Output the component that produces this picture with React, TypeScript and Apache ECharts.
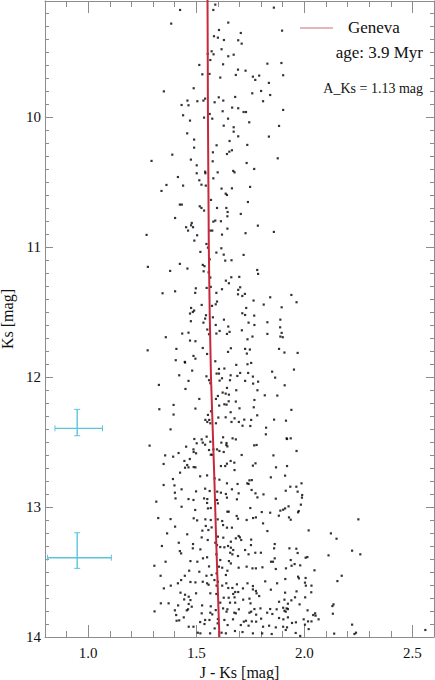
import React, { useEffect, useRef } from "react";
import * as echarts from "echarts";

// ---- tick values ----
const xMajorTicks = [1.0, 1.5, 2.0, 2.5];
const yMajorTicks = [10, 11, 12, 13, 14];
const xMinorTicks: number[] = [];
for (let i = 9; i <= 25; i++) if (i % 5 !== 0) xMinorTicks.push(i / 10);
const yMinorTicks: number[] = [];
for (let i = 92; i <= 139; i++) if (i % 10 !== 0) yMinorTicks.push(i / 10);

// ---- isochrone (Geneva, 3.9 Myr) ----
const isoColor = [1.552, 1.553, 1.554, 1.556, 1.558, 1.562, 1.568, 1.576, 1.584, 1.591, 1.599, 1.607];
const isoKs = [9.1, 9.5, 10.0, 10.5, 11.0, 11.5, 12.0, 12.4, 12.8, 13.2, 13.6, 14.0];

// ---- typical error bars ----
const errColor = [0.949, 0.949];
const errKs = [12.395, 13.39];
const errColorLo = [0.846, 0.812];
const errColorHi = [1.066, 1.107];
const errKsLo = [12.249, 13.198];
const errKsHi = [12.452, 13.472];

// ---- stars: [J-Ks, Ks] ----
const starsBright: number[][] = [
[1.588,9.136],[1.579,9.177],[1.425,9.177],[1.859,9.159],[1.384,9.282],[1.648,9.274],[1.897,9.336],[1.605,9.331],[1.706,9.354],[1.582,9.379],[1.600,9.390],[1.628,9.408],[1.694,9.410],[1.710,9.436],[1.617,9.479],[1.571,9.495],[1.580,9.518],[1.553,9.515],[1.673,9.521],[1.648,9.533],[1.565,9.562],[1.829,9.590],[1.894,9.585],[1.514,9.600],[1.624,9.595],[1.693,9.636],[1.728,9.644],[1.528,9.672],[1.561,9.669],[1.683,9.677],[1.762,9.690],[1.791,9.682],[1.902,9.679],[1.611,9.697],[1.773,9.715],[1.836,9.738],[1.488,9.779],[1.350,9.803],[1.800,9.800],[1.759,9.818],[1.842,9.831],[1.604,9.849],[1.680,9.846],[1.541,9.859],[1.533,9.874],[1.459,9.874],[1.505,9.879],[1.625,9.874],[1.585,9.887],[1.809,9.879],[1.432,9.908],[1.464,9.910],[1.666,9.928],[1.694,9.933],[1.902,9.946],[1.622,9.956],[1.719,9.962],[1.730,9.962],[1.439,9.987],[1.562,9.977],[1.536,10.005],[1.574,10.013],[1.647,10.013],[1.471,10.028],[1.745,10.041],[1.627,10.067],[1.673,10.079],[1.883,10.069],[1.673,10.113],[1.458,10.126],[1.694,10.149],[1.836,10.151],[1.490,10.174],[1.654,10.185],[1.736,10.215],[1.594,10.218],[1.490,10.236],[1.665,10.256],[1.653,10.267],[1.577,10.272],[1.642,10.285],[1.389,10.290],[1.877,10.318],[1.475,10.328],[1.576,10.341],[1.293,10.338],[1.733,10.354],[1.502,10.372],[1.768,10.400],[1.671,10.415],[1.541,10.421],[1.599,10.426],[1.677,10.426],[1.502,10.433],[1.542,10.433],[1.415,10.462],[1.579,10.472],[1.514,10.487],[1.362,10.523],[1.439,10.528],[1.524,10.521],[1.544,10.528],[1.749,10.538],[1.665,10.549],[1.617,10.551],[1.339,10.569],[1.636,10.590],[1.642,10.600],[1.568,10.638],[1.739,10.654],[1.424,10.674],[1.433,10.674],[1.516,10.687],[1.524,10.700],[1.596,10.700],[1.639,10.700],[1.536,10.720],[1.645,10.731],[1.706,10.746]
];

const starsMiddle: number[][] = [
[1.644,10.764],[1.402,10.777],[1.588,10.797],[1.579,10.805],[1.614,10.802],[1.479,10.815],[1.476,10.833],[1.453,10.848],[1.485,10.848],[1.785,10.836],[1.644,10.859],[1.462,10.874],[1.565,10.874],[1.574,10.874],[1.859,10.884],[1.728,10.894],[1.270,10.907],[1.504,10.910],[1.619,10.905],[1.491,10.951],[1.547,10.977],[1.554,11.005],[1.616,11.010],[1.519,11.038],[1.593,11.043],[1.627,11.059],[1.719,11.061],[1.562,11.095],[1.634,11.105],[1.663,11.102],[1.424,11.130],[1.530,11.138],[1.538,11.148],[1.276,11.153],[1.459,11.166],[1.782,11.177],[1.379,11.184],[1.534,11.187],[1.557,11.195],[1.786,11.207],[1.662,11.233],[1.699,11.230],[1.565,11.235],[1.637,11.259],[1.651,11.279],[1.567,11.307],[1.548,11.315],[1.498,11.318],[1.619,11.325],[1.694,11.330],[1.703,11.310],[1.402,11.341],[1.344,11.356],[1.495,11.353],[1.593,11.353],[1.693,11.364],[1.725,11.361],[1.713,11.377],[1.842,11.387],[1.765,11.412],[1.596,11.420],[1.590,11.441],[1.525,11.446],[1.812,11.443],[1.573,11.453],[1.476,11.469],[1.731,11.469],[1.895,11.464],[1.490,11.489],[1.484,11.500],[1.471,11.512],[1.713,11.510],[1.545,11.525],[1.726,11.523],[1.768,11.528],[1.577,11.541],[1.541,11.551],[1.628,11.559],[1.889,11.559],[1.475,11.571],[1.533,11.582],[1.742,11.582],[1.829,11.579],[1.590,11.600],[1.769,11.600],[1.648,11.612],[1.888,11.618],[1.551,11.635],[1.608,11.646],[1.711,11.641],[1.464,11.659],[1.435,11.666],[1.559,11.671],[1.593,11.666],[1.642,11.669],[1.654,11.653],[1.829,11.669],[1.895,11.661],[1.889,11.689],[1.900,11.694],[1.359,11.694],[1.760,11.689],[1.471,11.720],[1.496,11.725],[1.737,11.710],[1.530,11.777],[1.660,11.779],[1.408,11.784],[1.275,11.795],[1.726,11.784],[1.748,11.789],[1.883,11.784],[1.647,11.807],[1.550,11.823],[1.908,11.812],[1.734,11.820],[1.487,11.838],[1.496,11.859],[1.447,11.884],[1.405,11.871],[1.448,11.889],[1.588,11.879],[1.754,11.892],[1.737,11.902],[1.685,11.907],[1.605,11.938],[1.630,11.935],[1.481,11.951],[1.594,11.974],[1.605,11.974],[1.703,11.969],[1.740,11.969],[1.851,11.959],[1.421,11.987],[1.547,11.995],[1.659,11.987],[1.690,11.992],[1.762,11.997],[1.865,12.005],[1.619,12.010],[1.559,12.025],[1.464,12.030],[1.608,12.028],[1.656,12.025],[1.726,12.030],[1.786,12.036],[1.565,12.048],[1.763,12.051],[1.327,12.061],[1.909,12.064],[1.642,12.084],[1.450,12.092],[1.685,12.102],[1.783,12.102],[1.622,12.120],[1.636,12.128],[1.651,12.136],[1.600,12.146],[1.817,12.141],[1.875,12.143],[1.591,12.169],[1.514,12.169],[1.683,12.189],[1.650,12.187],[1.769,12.177],[1.630,12.210],[1.640,12.213],[1.606,12.220],[1.395,12.215],[1.496,12.243],[1.329,12.248],[1.700,12.241],[1.766,12.233],[1.568,12.264],[1.659,12.271],[1.395,12.289],[1.554,12.292],[1.782,12.295],[1.636,12.310],[1.602,12.312],[1.677,12.318],[1.542,12.330],[1.560,12.330],[1.551,12.346],[1.663,12.346],[1.697,12.346],[1.722,12.328],[1.754,12.330],[1.860,12.328],[1.915,12.336],[1.565,12.356],[1.591,12.356],
[1.940,11.369],[1.964,11.425],[1.969,11.815],[1.952,11.943],[1.940,12.253]
];

const starsFaint: number[][] = [
[1.714,12.375],[1.750,12.377],[1.823,12.390],[1.381,12.403],[1.822,12.441],[1.548,12.459],[1.624,12.464],[1.491,12.477],[1.525,12.480],[1.668,12.472],[1.683,12.480],[1.918,12.472],[1.920,12.477],[1.565,12.498],[1.616,12.505],[1.640,12.508],[1.502,12.510],[1.530,12.505],[1.541,12.521],[1.639,12.523],[1.644,12.534],[1.768,12.526],[1.779,12.523],[1.284,12.528],[1.453,12.536],[1.487,12.557],[1.559,12.562],[1.579,12.557],[1.596,12.557],[1.607,12.569],[1.627,12.577],[1.488,12.577],[1.499,12.587],[1.567,12.598],[1.574,12.598],[1.710,12.600],[1.857,12.603],[1.356,12.603],[1.393,12.613],[1.418,12.585],[1.470,12.631],[1.445,12.646],[1.458,12.677],[1.488,12.693],[1.496,12.695],[1.464,12.695],[1.448,12.698],[1.349,12.669],[1.614,12.685],[1.634,12.685],[1.642,12.667],[1.659,12.646],[1.676,12.659],[1.762,12.682],[1.774,12.664],[1.677,12.716],[1.869,12.695],[1.920,12.685],[1.425,12.736],[1.392,12.785],[1.349,12.831],[1.399,12.834],[1.518,12.764],[1.550,12.757],[1.585,12.780],[1.607,12.790],[1.642,12.818],[1.691,12.823],[1.736,12.818],[1.746,12.795],[1.757,12.793],[1.742,12.823],[1.911,12.759],[1.845,12.772],[1.756,12.869],[1.432,12.864],[1.499,12.880],[1.541,12.859],[1.562,12.877],[1.597,12.882],[1.614,12.890],[1.665,12.864],[1.637,12.900],[1.696,12.895],[1.774,12.895],[1.811,12.903],[1.401,12.890],[1.404,12.934],[1.315,12.959],[1.464,12.939],[1.487,12.946],[1.536,12.934],[1.551,12.939],[1.550,12.969],[1.596,12.946],[1.600,12.972],[1.642,12.928],[1.688,12.941],[1.783,12.926],[1.868,12.936],[1.914,12.875],[1.432,12.998],[1.554,13.011],[1.567,13.008],[1.644,13.036],[1.650,13.036],[1.495,13.023],[1.750,13.008],[1.803,13.039],[1.842,13.044],[1.889,13.028],[1.902,13.021],[1.882,13.067],[1.911,13.011],[1.324,13.085],[1.381,13.093],[1.488,13.087],[1.504,13.103],[1.542,13.095],[1.567,13.100],[1.544,13.146],[1.599,13.095],[1.620,13.108],[1.687,13.069],[1.693,13.090],[1.733,13.100],[1.763,13.085],[1.776,13.080],[1.402,13.151],[1.571,13.157],[1.642,13.159],[1.665,13.159],[1.624,13.139],[1.809,13.126],[1.528,13.182],[1.556,13.177],[1.365,13.203],[1.458,13.210],[1.600,13.228],[1.525,13.234],[1.625,13.236],[1.696,13.223],[1.702,13.234],[1.683,13.241],[1.754,13.251],[1.829,13.185],[1.553,13.254],[1.660,13.267],[1.708,13.254],[1.419,13.275],[1.485,13.285],[1.588,13.275],[1.596,13.293],[1.647,13.300],[1.341,13.300],[1.484,13.318],[1.519,13.326],[1.611,13.308],[1.630,13.310],[1.660,13.313],[1.671,13.331],[1.753,13.293],[1.863,13.285],[1.860,13.318],[1.424,13.339],[1.430,13.357],[1.657,13.352],[1.667,13.364],[1.742,13.364],[1.773,13.352],[1.799,13.352],[1.593,13.364],[1.550,13.387],[1.693,13.377],[1.726,13.331],[1.531,13.395],[1.473,13.416],[1.505,13.421],[1.358,13.421],[1.611,13.408],[1.651,13.416],[1.660,13.434],[1.846,13.421],[1.855,13.421],[1.863,13.395],[1.306,13.452],[1.559,13.457],[1.605,13.459],[1.620,13.467],[1.696,13.467],[1.733,13.459],[1.760,13.472],[1.776,13.472],[1.806,13.464],[1.868,13.477],[1.915,13.472],[1.514,13.498],[1.644,13.490],[1.467,13.490],[1.571,13.523],[1.594,13.511],[1.637,13.523],[1.447,13.529],[1.547,13.529],[1.335,13.529],[1.430,13.562],[1.473,13.577],[1.496,13.580],[1.530,13.575],[1.550,13.587],[1.557,13.598],[1.584,13.562],[1.600,13.575],[1.620,13.605],[1.639,13.587],[1.688,13.595],[1.737,13.587],[1.762,13.608],[1.819,13.572],[1.874,13.587],[1.415,13.587],[1.382,13.605],[1.350,13.626],[1.594,13.605],[1.648,13.623],[1.667,13.623],[1.671,13.669],[1.680,13.654],[1.694,13.654],[1.716,13.626],[1.762,13.634],[1.776,13.646],[1.779,13.664],[1.845,13.636],[1.911,13.659],[1.427,13.659],[1.448,13.675],[1.465,13.690],[1.444,13.711],[1.473,13.716],[1.499,13.664],[1.565,13.664],[1.593,13.669],[1.627,13.698],[1.650,13.698],[1.677,13.695],[1.717,13.713],[1.746,13.705],[1.791,13.685],[1.751,13.741],[1.656,13.736],[1.611,13.736],[1.680,13.736],[1.883,13.729],[1.908,13.713],[1.336,13.741],[1.372,13.741],[1.465,13.746],[1.479,13.767],[1.416,13.757],[1.462,13.787],[1.527,13.757],[1.567,13.764],[1.590,13.793],[1.624,13.780],[1.644,13.787],[1.697,13.787],[1.769,13.785],[1.797,13.780],[1.842,13.785],[1.872,13.787],[1.902,13.775],[1.918,13.780],[1.307,13.803],[1.401,13.795],[1.456,13.795],[1.407,13.831],[1.442,13.849],[1.525,13.818],[1.565,13.813],[1.574,13.826],[1.640,13.805],[1.676,13.813],[1.683,13.818],[1.746,13.813],[1.754,13.805],[1.777,13.828],[1.828,13.813],[1.852,13.823],[1.908,13.798],[1.409,13.875],[1.421,13.872],[1.541,13.869],[1.561,13.869],[1.600,13.862],[1.630,13.869],[1.670,13.864],[1.730,13.875],[1.757,13.880],[1.777,13.882],[1.800,13.859],[1.883,13.854],[1.903,13.864],[1.465,13.921],[1.487,13.921],[1.518,13.885],[1.538,13.900],[1.599,13.895],[1.645,13.908],[1.706,13.908],[1.720,13.882],[1.742,13.913],[1.809,13.921],[1.837,13.913],[1.868,13.926],[1.902,13.921],[1.507,13.967],[1.519,13.972],[1.564,13.972],[1.617,13.967],[1.637,13.972],[1.679,13.954],[1.714,13.962],[1.762,13.972],[1.805,13.972],[1.849,13.977],[1.914,13.946],[1.585,13.934]
];

const starsRed: number[][] = [
[1.937,12.472],[1.964,12.569],[1.935,12.844],[1.963,12.844],[1.987,12.818],[1.969,12.882],[1.990,12.908],[1.989,12.928],[1.984,12.982],[1.927,12.995],[1.974,13.031],[1.971,13.041],[1.929,13.080],[1.937,13.098],[2.250,13.095],[2.020,13.180],[2.123,13.203],[2.149,13.244],[1.931,13.318],[1.963,13.321],[1.969,13.354],[2.221,13.336],[2.259,13.364],[2.112,13.372],[2.006,13.390],[2.014,13.385],[1.937,13.408],[1.941,13.452],[1.955,13.439],[1.981,13.449],[2.047,13.487],[1.971,13.536],[1.975,13.549],[2.006,13.546],[1.912,13.554],[2.173,13.529],[2.153,13.570],[2.003,13.582],[2.007,13.605],[2.033,13.605],[1.964,13.649],[2.032,13.656],[2.004,13.695],[1.957,13.695],[1.940,13.718],[1.924,13.744],[1.978,13.749],[2.135,13.749],[2.130,13.762],[1.924,13.785],[1.914,13.805],[2.015,13.795],[2.041,13.831],[2.050,13.818],[2.052,13.836],[2.132,13.821],[2.066,13.864],[1.997,13.864],[1.924,13.849],[2.017,13.880],[2.033,13.880],[1.943,13.892],[1.961,13.887],[2.003,13.905],[1.920,13.926],[2.020,13.939],[1.960,13.969],[1.981,13.992],[2.138,13.974],[2.221,13.905],[2.232,13.977],[2.239,13.967],[2.560,13.946]
];

const FONT = "'Times New Roman', 'Liberation Serif', Tinos, serif";
const AXIS_COLOR = "#8c8c8c";
const CYAN = "#5cc4de";

function App() {
  const ref = useRef<HTMLDivElement>(null);
  useEffect(() => {
    if (!ref.current) return;
    const chart = echarts.init(ref.current, null, { renderer: "svg" });
    const allStars = [...starsBright, ...starsMiddle, ...starsFaint, ...starsRed];
    const isoData = isoColor.map((c, i) => [c, isoKs[i]]);
    const errData = errColor.map((c, i) => [c, errKs[i], errColorLo[i], errColorHi[i], errKsLo[i], errKsHi[i]]);

    const xCommon = {
      type: "value",
      min: 0.8,
      max: 2.6,
      splitLine: { show: false },
      axisLine: { show: true, onZero: false, lineStyle: { color: AXIS_COLOR, width: 1 } },
    };
    const yCommon = {
      type: "value",
      min: 9.108,
      max: 14,
      inverse: true,
      splitLine: { show: false },
      axisLine: { show: true, onZero: false, lineStyle: { color: AXIS_COLOR, width: 1 } },
    };
    const labelStyle = { color: "#111", fontSize: 15, fontFamily: FONT };

    chart.setOption({
      animation: false,
      textStyle: { fontFamily: FONT },
      grid: { left: 45, right: 1, top: 1, bottom: 43, containLabel: false, outerBoundsMode: "none" },
      xAxis: [
        {
          ...xCommon,
          position: "bottom",
          axisTick: { show: true, inside: true, length: 12, customValues: xMajorTicks, lineStyle: { color: AXIS_COLOR } },
          axisLabel: { ...labelStyle, margin: 8, customValues: xMajorTicks, formatter: (v: number) => v.toFixed(1) },
          name: "J - Ks [mag]",
          nameLocation: "middle",
          nameGap: 27,
          nameTextStyle: { color: "#111", fontSize: 16, fontFamily: FONT },
        },
        {
          ...xCommon,
          position: "bottom",
          axisLine: { show: false },
          axisTick: { show: true, inside: true, length: 6, customValues: xMinorTicks, lineStyle: { color: AXIS_COLOR } },
          axisLabel: { show: false },
        },
        {
          ...xCommon,
          position: "top",
          axisTick: { show: true, inside: true, length: 12, customValues: xMajorTicks, lineStyle: { color: AXIS_COLOR } },
          axisLabel: { show: false },
        },
        {
          ...xCommon,
          position: "top",
          axisLine: { show: false },
          axisTick: { show: true, inside: true, length: 6, customValues: xMinorTicks, lineStyle: { color: AXIS_COLOR } },
          axisLabel: { show: false },
        },
      ],
      yAxis: [
        {
          ...yCommon,
          position: "left",
          axisTick: { show: true, inside: true, length: 8, customValues: yMajorTicks, lineStyle: { color: AXIS_COLOR } },
          axisLabel: { ...labelStyle, margin: 4, customValues: yMajorTicks, formatter: (v: number) => String(Math.round(v)) },
          name: "Ks [mag]",
          nameLocation: "middle",
          nameGap: 26,
          nameRotate: 90,
          nameTextStyle: { color: "#111", fontSize: 16, fontFamily: FONT },
        },
        {
          ...yCommon,
          position: "left",
          axisLine: { show: false },
          axisTick: { show: true, inside: true, length: 4, customValues: yMinorTicks, lineStyle: { color: AXIS_COLOR } },
          axisLabel: { show: false },
        },
        {
          ...yCommon,
          position: "right",
          axisTick: { show: true, inside: true, length: 8, customValues: yMajorTicks, lineStyle: { color: AXIS_COLOR } },
          axisLabel: { show: false },
        },
        {
          ...yCommon,
          position: "right",
          axisLine: { show: false },
          axisTick: { show: true, inside: true, length: 4, customValues: yMinorTicks, lineStyle: { color: AXIS_COLOR } },
          axisLabel: { show: false },
        },
      ],
      series: [
        {
          type: "scatter",
          name: "stars",
          data: allStars,
          symbol: "rect",
          symbolSize: 2.2,
          itemStyle: { color: "#000" },
          silent: true,
        },
        {
          type: "line",
          name: "Geneva",
          data: isoData,
          showSymbol: false,
          smooth: false,
          lineStyle: { color: "#c8283c", width: 2 },
          silent: true,
          z: 3,
        },
        {
          type: "custom",
          name: "errors",
          data: errData,
          silent: true,
          renderItem: (params: any, api: any) => {
            const cx = api.value(0), cy = api.value(1);
            const pL = api.coord([api.value(2), cy]);
            const pR = api.coord([api.value(3), cy]);
            const pT = api.coord([cx, api.value(4)]);
            const pB = api.coord([cx, api.value(5)]);
            const st = { stroke: CYAN, lineWidth: 1.4 };
            const cap = 3;
            return {
              type: "group",
              children: [
                { type: "line", shape: { x1: pL[0], y1: pL[1], x2: pR[0], y2: pR[1] }, style: st },
                { type: "line", shape: { x1: pT[0], y1: pT[1], x2: pB[0], y2: pB[1] }, style: st },
                { type: "line", shape: { x1: pT[0] - cap, y1: pT[1], x2: pT[0] + cap, y2: pT[1] }, style: { stroke: CYAN, lineWidth: 1 } },
                { type: "line", shape: { x1: pB[0] - cap, y1: pB[1], x2: pB[0] + cap, y2: pB[1] }, style: { stroke: CYAN, lineWidth: 1 } },
                { type: "line", shape: { x1: pL[0], y1: pL[1] - cap, x2: pL[0], y2: pL[1] + cap }, style: { stroke: CYAN, lineWidth: 1 } },
                { type: "line", shape: { x1: pR[0], y1: pR[1] - cap, x2: pR[0], y2: pR[1] + cap }, style: { stroke: CYAN, lineWidth: 1 } },
              ],
            };
          },
        },
      ],
      graphic: [
        { type: "line", shape: { x1: 300, y1: 28, x2: 333, y2: 28 }, style: { stroke: "#d26a78", lineWidth: 1 } },
        { type: "text", x: 348, y: 27, style: { text: "Geneva", fontSize: 17, fontFamily: FONT, fill: "#111", verticalAlign: "middle", align: "left" } },
        { type: "text", x: 423, y: 52, style: { text: "age: 3.9 Myr", fontSize: 17, fontFamily: FONT, fill: "#111", verticalAlign: "middle", align: "right" } },
        { type: "text", x: 423, y: 88, style: { text: "A_Ks = 1.13 mag", fontSize: 14, fontFamily: FONT, fill: "#111", verticalAlign: "middle", align: "right" } },
      ],
    });
    return () => chart.dispose();
  }, []);
  return (
    <div
      ref={ref}
      style={{ position: "absolute", left: 0, top: 0, width: 435, height: 680, background: "#fff" }}
    />
  );
}

export default App;
